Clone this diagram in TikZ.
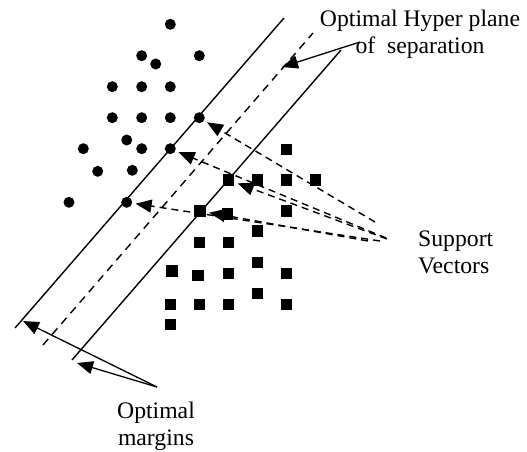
\documentclass[tikz,border=0pt]{standalone}
\usepackage{fontspec}
\setmainfont{Liberation Serif}
\usetikzlibrary{arrows.meta}
\begin{document}
\begin{tikzpicture}[x=1pt,y=-1pt,
  dot/.style={circle,fill=black,inner sep=0pt,outer sep=0pt,minimum size=11pt},
  sq/.style={rectangle,fill=black,inner sep=0pt,outer sep=0pt,minimum size=11.5pt},
  plane/.style={line width=1.4pt},
  midplane/.style={line width=1.4pt,dash pattern=on 8pt off 6pt},
  svarrow/.style={line width=1.4pt,dash pattern=on 7pt off 5pt,-{Triangle[length=16pt,width=13pt]},shorten >=3.5pt},
  callout/.style={line width=1.3pt,-{Triangle[length=16pt,width=13pt]}},
  label/.style={font=\fontsize{23.7}{26.5}\selectfont,inner sep=0pt}]
\useasboundingbox (0,0) rectangle (527,452);

% class one: filled circles
\foreach \n/\x/\y in {1/170.3/24.3, 2/141.7/55.7, 3/155.7/64, 4/199.3/55.7,
  5/112.3/86.7, 6/141.7/86.7, 7/170.3/86.7, 8/112.3/117.7, 9/141.7/117.7,
  10/170.3/117.7, 11/199.3/117.7, 12/126.7/140, 13/83.3/148.7, 14/141.7/148.7,
  15/170.3/148.7, 16/97.7/171.3, 17/132.3/170.3, 18/69/202.3, 19/126.7/202.3}
  \node[dot] (c\n) at (\x,\y) {};

% class two: filled squares
\foreach \n/\x/\y in {1/286.7/149.3, 2/228.7/180, 3/257.3/180, 4/286.7/180,
  5/315.7/180, 6/200/211, 7/227.3/214, 8/286.7/211, 9/257.3/231,
  10/199.3/242.3, 11/228.7/242.3, 12/172/271, 13/198/275.7, 14/228.7/273.3,
  15/257.3/262.3, 16/286.7/273.3, 17/257.3/293.3, 18/170.7/304.3,
  19/199.3/304.3, 20/228.7/304.3, 21/286.7/304.3, 22/170.7/324.3}
  \node[sq] (s\n) at (\x,\y) {};

% margin planes and the separating hyperplane
\coordinate (m1b) at (15,328);   \coordinate (m1t) at (284,18);
\coordinate (hpb) at (43,345);   \coordinate (hpt) at (313,33);
\coordinate (m2b) at (72,360);   \coordinate (m2t) at (341,50);
\draw[plane] (m1b) -- (m1t);
\draw[midplane] (hpb) -- (hpt);
\draw[plane] (m2b) -- (m2t);

% labels (base anchor sits on the last line)
\node[label,anchor=base,align=center] (hyper) at (420,53)
  {Optimal Hyper plane\\of\ \ separation};
\node[label,anchor=base west,align=left] (support) at (418,273)
  {Support\\Vectors};
\node[label,anchor=base,align=center] (margins) at (156,445)
  {Optimal\\margins};

% support vector pointers
\coordinate (sva) at (375,222);
\coordinate (svb) at (386,238);
\coordinate (svc) at (387,239);
\coordinate (svd) at (380,241);
\coordinate (sve) at (368,241);
\draw[svarrow] (sva) -- (c11);
\draw[svarrow] (svb) -- (c15);
\draw[svarrow] (svc) -- (s2);
\draw[svarrow] (svd) -- (c19);
\draw[svarrow] (sve) -- (s6);

% hyperplane pointer
\coordinate (hps) at (360,42);
\coordinate (hpe) at (282,67);
\draw[callout] (hps) -- (hpe);

% margin pointers
\coordinate (mgs) at (157,387);
\coordinate (mg1) at (23,321);
\coordinate (mg2) at (77,363);
\draw[callout] (mgs) -- (mg1);
\draw[callout] (mgs) -- (mg2);
\end{tikzpicture}
\end{document}
